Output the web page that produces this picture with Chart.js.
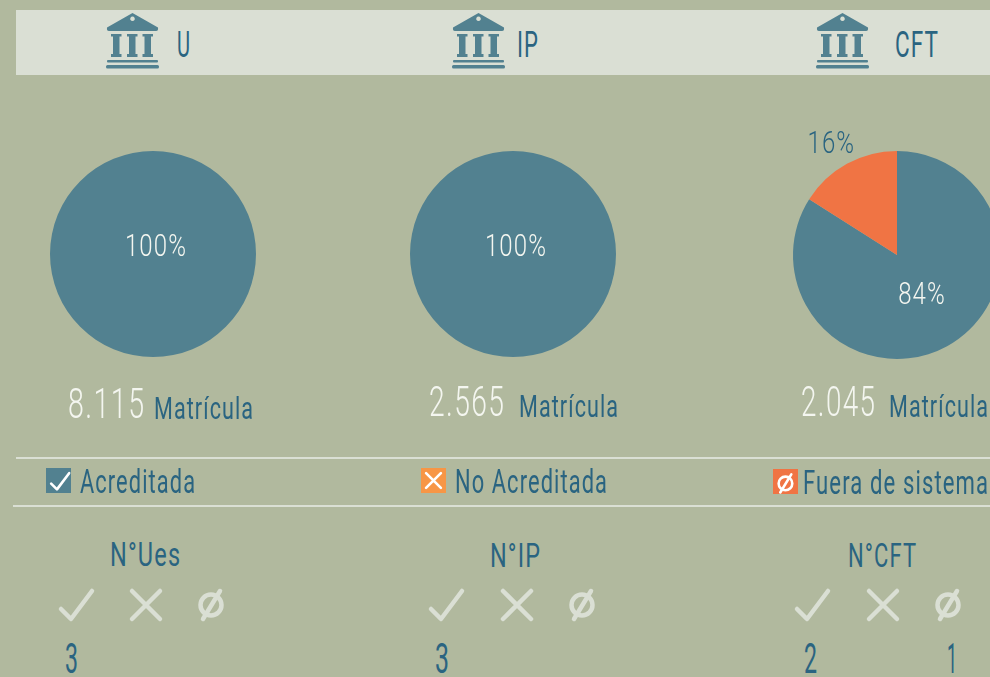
<!DOCTYPE html>
<html>
<head>
<meta charset="utf-8">
<script src="https://cdn.jsdelivr.net/npm/chart.js@4/dist/chart.umd.min.js"></script>
<style>
  html, body { margin: 0; padding: 0; }
  body { width: 990px; height: 677px; background: #b1b99e; overflow: hidden; position: relative; font-family: Roboto, "Liberation Sans", sans-serif; font-weight: 400; }
  .banner { position: absolute; left: 16px; top: 10px; width: 974px; height: 65px; background: #dadfd4; }
  .rule { position: absolute; height: 2px; right: 0; background: #dadfd4; }
  canvas { position: absolute; }
  .t { position: absolute; white-space: nowrap; transform-origin: 0 0; line-height: 1; color: #2a6481; letter-spacing: 0.05em; }
  .white { color: #f4f6f0; font-weight: 300; }
  svg { position: absolute; overflow: visible; }
</style>
</head>
<body>
<div class="banner"></div>
<div class="rule" style="left:16px;top:457px"></div>
<div class="rule" style="left:13px;top:505px"></div>

<svg width="0" height="0">
  <defs>
    <g id="bank" fill="#528190">
      <path d="M26.500 0 L52 14.500 Q52.500 18 50 18 L3 18 Q0.500 18 1 14.500 Z M26.500 3.500 a2.300 2.300 0 1 0 0.010 0 Z" fill-rule="evenodd"/>
      <path d="M5 21 H15.500 V23.500 H13.500 V41 H15.500 V44 H5 V41 H7 V23.500 H5 Z"/>
      <path d="M21 21 H31.500 V23.500 H29.500 V41 H31.500 V44 H21 V41 H23 V23.500 H21 Z"/>
      <path d="M36.500 21 H47 V23.500 H45 V41 H47 V44 H36.500 V41 H38.500 V23.500 H36.500 Z"/>
      <rect x="1" y="47" width="51" height="2.500" rx="1"/>
      <rect x="0" y="52" width="53" height="3.500" rx="1.500"/>
    </g>
    <path id="chk" d="M2 20 L12 30 L33 2" fill="none" stroke-linecap="round" stroke-linejoin="round"/>
    <path id="crs" d="M2 2 L30 30 M30 2 L2 30" fill="none" stroke-linecap="round"/>
    <g id="nul" fill="none" stroke-linecap="round"><circle cx="13" cy="16" r="10.500"/><path d="M22 2 L5 30"/></g>
  </defs>
</svg>

<canvas id="pieU"></canvas>
<canvas id="pieIP"></canvas>
<canvas id="pieCFT"></canvas>

<script>
// Datos
const instituciones = ['U', 'IP', 'CFT'];
const estados = ['Acreditada', 'No Acreditada', 'Fuera de sistema'];
const acreditada = [100, 100, 84];
const noAcreditada = [0, 0, 0];
const fueraSistema = [0, 0, 16];
const matricula = ['8.115', '2.565', '2.045'];
const numeroTitulos = ['N°Ues', 'N°IP', 'N°CFT'];
const numeroAcreditada = [3, 3, 2];
const numeroFuera = ['', '', 1];

const TEAL = '#528190';
const ORANGE = '#f07444';
const DARK = '#2a6481';
const WHITE = '#f4f6f0';

// texto real, ajustado al ancho que tiene en la imagen
function addText(str, left, right, baseline, size, cls) {
  const el = document.createElement('div');
  el.className = 't ' + (cls || '');
  el.textContent = str;
  el.style.fontSize = size + 'px';
  el.style.left = left + 'px';
  document.body.appendChild(el);
  const w = el.getBoundingClientRect().width - size * 0.05;
  el.style.top = (baseline - size * 0.84) + 'px';
  el.style.transform = 'scaleX(' + ((right - left) / w) + ')';
}

function addIcon(id, x, y, stroke, width, scale) {
  const ns = 'http://www.w3.org/2000/svg';
  const svg = document.createElementNS(ns, 'svg');
  svg.setAttribute('width', 60);
  svg.setAttribute('height', 60);
  svg.style.left = x + 'px';
  svg.style.top = y + 'px';
  const use = document.createElementNS(ns, 'use');
  use.setAttribute('href', '#' + id);
  if (stroke) {
    use.setAttribute('stroke', stroke);
    use.setAttribute('stroke-width', width);
  }
  if (scale) use.setAttribute('transform', 'scale(' + scale + ')');
  svg.appendChild(use);
  document.body.appendChild(svg);
}

function addBox(x, y, color, id, scale) {
  const box = document.createElement('div');
  box.style.cssText = 'position:absolute;width:25px;height:25px;left:' + x + 'px;top:' + y + 'px;background:' + color;
  document.body.appendChild(box);
  addIcon(id, x + 4, y + 4, '#ffffff', 2.600 / scale, scale);
}

// etiquetas de porcentaje sobre cada porcion
const percentLabels = {
  id: 'percentLabels',
  afterDatasetsDraw(chart) {
    const ctx = chart.ctx;
    const arcs = chart.getDatasetMeta(0).data;
    const values = chart.data.datasets[0].data;
    const total = values.reduce((a, b) => a + b, 0);
    ctx.save();
    ctx.font = '300 32px Roboto';
    ctx.letterSpacing = '1.5px';
    ctx.textAlign = 'center';
    ctx.textBaseline = 'alphabetic';
    arcs.forEach((arc, i) => {
      const pct = values[i] / total;
      if (!values[i]) return;
      const mid = (arc.startAngle + arc.endAngle) / 2;
      let x = arc.x + 3;
      let y = arc.y + 2;
      if (pct < 1) {
        const small = pct < 0.3;
        const dist = arc.outerRadius * (small ? 1.31 : 0.5);
        x = arc.x + Math.cos(mid) * dist;
        y = arc.y + Math.sin(mid) * dist + (small ? 17 : 3);
      }
      ctx.fillStyle = pct < 0.3 ? DARK : WHITE;
      ctx.translate(x, y);
      ctx.scale(0.75, 1);
      ctx.fillText(values[i] + '%', 0, 0);
      ctx.setTransform(1, 0, 0, 1, 0, 0);
    });
    ctx.restore();
  }
};

function drawPie(id, i, cx, cy, r) {
  const canvas = document.getElementById(id);
  const size = 320;
  canvas.width = size;
  canvas.height = size;
  canvas.style.left = (cx - size / 2) + 'px';
  canvas.style.top = (cy - size / 2) + 'px';
  new Chart(canvas, {
    type: 'pie',
    data: {
      labels: estados,
      datasets: [{
        data: [acreditada[i], noAcreditada[i], fueraSistema[i]],
        backgroundColor: [TEAL, '#f79646', ORANGE],
        borderWidth: 0,
        radius: r
      }]
    },
    options: {
      responsive: false,
      animation: false,
      plugins: { legend: { display: false }, tooltip: { enabled: false } }
    },
    plugins: [percentLabels]
  });
}

drawPie('pieU', 0, 153, 254, 103);
drawPie('pieIP', 1, 513, 254, 103);
drawPie('pieCFT', 2, 897, 255, 104);

// cabecera
[106, 452, 816].forEach(x => addIcon('bank', x, 13));
addText(instituciones[0], 177, 190, 57, 37);
addText(instituciones[1], 517, 538, 57, 37);
addText(instituciones[2], 895, 938, 57, 37);

// matricula
addText(matricula[0], 68, 144, 418, 43, 'white');
addText(matricula[1], 429, 504, 416, 43, 'white');
addText(matricula[2], 801, 875, 416, 43, 'white');
addText('Matrícula', 154, 253, 419, 32);
addText('Matrícula', 519, 618, 417, 32);
addText('Matrícula', 889, 988, 417, 32);

// leyenda
addBox(46, 468, TEAL, 'chk', 0.580);
addBox(421, 468, '#f79646', 'crs', 0.530);
addBox(773, 469, ORANGE, 'nul', 0.650);
addText(estados[0], 80, 195, 493, 33);
addText(estados[1], 455, 607, 493, 33);
addText(estados[2], 803, 988, 494, 33);

// conteos
addText(numeroTitulos[0], 110, 180, 566, 34);
addText(numeroTitulos[1], 490, 540, 567, 34);
addText(numeroTitulos[2], 848, 916, 567, 34);

const ICON = '#dadfd4';
[[59, 130, 198], [429, 501, 569], [795, 867, 935]].forEach(xs => {
  addIcon('chk', xs[0], 589, ICON, 4.500);
  addIcon('crs', xs[1], 589, ICON, 4.500);
  addIcon('nul', xs[2], 589, ICON, 4.500);
});

addText(String(numeroAcreditada[0]), 65, 78, 673, 42);
addText(String(numeroAcreditada[1]), 435, 449, 673, 42);
addText(String(numeroAcreditada[2]), 804, 817, 673, 42);
addText(String(numeroFuera[2]), 947, 957, 673, 42);
</script>
</body>
</html>
